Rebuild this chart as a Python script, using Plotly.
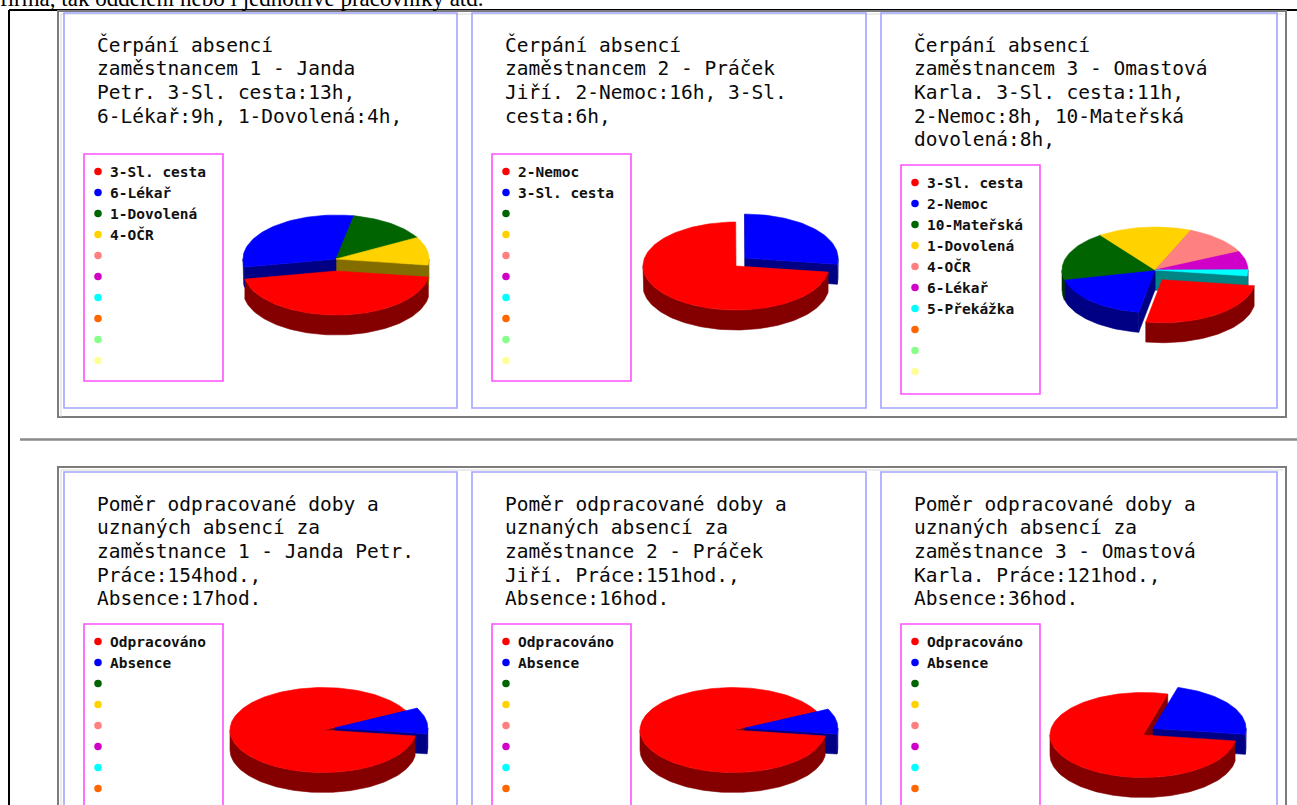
import math
import plotly.graph_objects as go

W, H = 1297, 805

# ---------------- data ----------------
top1_labels = ["3-Sl. cesta", "6-Lékař", "1-Dovolená", "4-OČR"]
top1_hours = [13, 9, 4, 3]
top2_labels = ["2-Nemoc", "3-Sl. cesta"]
top2_hours = [16, 6]
top3_labels = ["3-Sl. cesta", "2-Nemoc", "10-Mateřská", "1-Dovolená", "4-OČR", "6-Lékař", "5-Překážka"]
top3_hours = [11, 8, 8, 7, 5, 3, 1]
work_labels = ["Odpracováno", "Absence"]
emp1_hours = [154, 17]
emp2_hours = [151, 16]
emp3_hours = [121, 36]

top1_title = ["Čerpání absencí", "zaměstnancem 1 - Janda", "Petr. 3-Sl. cesta:13h,", "6-Lékař:9h, 1-Dovolená:4h,"]
top2_title = ["Čerpání absencí", "zaměstnancem 2 - Práček", "Jiří. 2-Nemoc:16h, 3-Sl.", "cesta:6h,"]
top3_title = ["Čerpání absencí", "zaměstnancem 3 - Omastová", "Karla. 3-Sl. cesta:11h,", "2-Nemoc:8h, 10-Mateřská", "dovolená:8h,"]
bot1_title = ["Poměr odpracované doby a", "uznaných absencí za", "zaměstnance 1 - Janda Petr.", "Práce:154hod.,", "Absence:17hod."]
bot2_title = ["Poměr odpracované doby a", "uznaných absencí za", "zaměstnance 2 - Práček", "Jiří. Práce:151hod.,", "Absence:16hod."]
bot3_title = ["Poměr odpracované doby a", "uznaných absencí za", "zaměstnance 3 - Omastová", "Karla. Práce:121hod.,", "Absence:36hod."]

page_text = "firma, tak oddělení nebo i jednotlivé pracovníky atd."

palette = ["#ff0000", "#0000ff", "#006400", "#ffd200", "#ff8080",
           "#d000c8", "#00ffff", "#ff6600", "#88ff88", "#ffff99"]


def darker(hexcol, f=0.52):
    r, g, b = int(hexcol[1:3], 16), int(hexcol[3:5], 16), int(hexcol[5:7], 16)
    return "#%02x%02x%02x" % (int(r * f), int(g * f), int(b * f))


fig = go.Figure()


def poly(xs, ys, col):
    fig.add_trace(go.Scatter(x=xs, y=ys, mode="lines", fill="toself", fillcolor=col,
                             line=dict(color=col, width=0.6), hoverinfo="skip",
                             showlegend=False))


def add_pie(values, cx, cy, rx, ry, depth, explode_idx, start_deg=8.0, E=12.0):
    total = float(sum(values))
    spans = []
    a = math.radians(start_deg)
    for v in values:
        b = a + 2 * math.pi * v / total
        spans.append((a, b))
        a = b
    centers = []
    for i, (a, b) in enumerate(spans):
        if i == explode_idx:
            m = (a + b) / 2
            centers.append((cx + E * math.cos(m), cy + E * math.sin(m)))
        else:
            centers.append((cx, cy))
    # radial faces, painted back to front
    faces = []
    for i, (a, b) in enumerate(spans):
        ccx, ccy = centers[i]
        for phi, ny in ((a, -math.cos(a)), (b, math.cos(b))):
            if ny > 1e-6:
                px = ccx + rx * math.cos(phi)
                py = ccy + ry * math.sin(phi)
                xs = [ccx, px, px, ccx, ccx]
                ys = [ccy, py, py + depth, ccy + depth, ccy]
                faces.append(((ccy + py) / 2, xs, ys, darker(palette[i])))
    faces.sort(key=lambda t: t[0])
    for _, xs, ys, col in faces:
        poly(xs, ys, col)
    # outer rims (front half only)
    for i, (a, b) in enumerate(spans):
        ccx, ccy = centers[i]
        for k in range(-1, 3):
            lo, hi = 2 * math.pi * k, 2 * math.pi * k + math.pi
            s, e = max(a, lo), min(b, hi)
            if e > s:
                n = max(4, int((e - s) / 0.03))
                ts = [s + (e - s) * j / n for j in range(n + 1)]
                xs = [ccx + rx * math.cos(t) for t in ts]
                ys = [ccy + ry * math.sin(t) for t in ts]
                xs2 = xs[::-1]
                ys2 = [y + depth for y in ys[::-1]]
                poly(xs + xs2 + [xs[0]], ys + ys2 + [ys[0]], darker(palette[i]))
    # top faces
    for i, (a, b) in enumerate(spans):
        ccx, ccy = centers[i]
        n = max(4, int((b - a) / 0.03))
        ts = [a + (b - a) * j / n for j in range(n + 1)]
        xs = [ccx] + [ccx + rx * math.cos(t) for t in ts] + [ccx]
        ys = [ccy] + [ccy + ry * math.sin(t) for t in ts] + [ccy]
        poly(xs, ys, palette[i])


shapes = []
annotations = []


def rect(x0, y0, x1, y1, col, w):
    shapes.append(dict(type="rect", xref="x", yref="y", x0=x0, y0=y0, x1=x1, y1=y1,
                       line=dict(color=col, width=w), fillcolor="rgba(0,0,0,0)", layer="below"))


def line(x0, y0, x1, y1, col, w):
    shapes.append(dict(type="line", xref="x", yref="y", x0=x0, y0=y0, x1=x1, y1=y1,
                       line=dict(color=col, width=w), layer="below"))


# page structure
line(9, 10, W + 5, 10, "#000000", 2)
line(9, 10, 9, H + 5, "#000000", 2)
# sunken frames
for (fy0, fy1) in ((11, 417), (467, 900)):
    rect(58, fy0, 1286, fy1, "#7c7c7c", 2)
    line(61, fy0 + 3, 1283, fy0 + 3, "#d8d8d8", 1)
    line(61, fy0 + 3, 61, fy1, "#d8d8d8", 1)
# horizontal rule
line(20, 439.5, W + 5, 439.5, "#8a8a8a", 2.5)

panel_x = [64, 472, 881]
panel_w = [393, 394, 396]
rows = [
    dict(y0=13, y1=408, title_y=45, leg=[(154, 381), (154, 381), (165, 394)]),
    dict(y0=472, y1=900, title_y=504, leg=[(624, 900), (624, 900), (624, 900)]),
]

panels = [
    (0, 0, top1_title, top1_labels, top1_hours, 0, (336, 259, 44)),
    (0, 1, top2_title, top2_labels, top2_hours, 1, (736, 266, 44)),
    (0, 2, top3_title, top3_labels, top3_hours, 0, (1155, 270, 43)),
    (1, 0, bot1_title, work_labels, emp1_hours, 1, (323, 730, 42.5)),
    (1, 1, bot2_title, work_labels, emp2_hours, 1, (733, 730, 42.5)),
    (1, 2, bot3_title, work_labels, emp3_hours, 1, (1143, 735, 42.5)),
]

LINE_H = 23.7
for r, c, title, labels, hours, expl, (pcx, pcy, pry) in panels:
    row = rows[r]
    px0 = panel_x[c]
    rect(px0, row["y0"], px0 + panel_w[c], row["y1"], "#a4a4ff", 1.6)
    for k, t in enumerate(title):
        annotations.append(dict(x=px0 + 31, y=row["title_y"] + k * LINE_H, xref="x", yref="y",
                                text=t, showarrow=False, xanchor="left", yanchor="middle",
                                font=dict(family="DejaVu Sans Mono", size=19.5, color="#0a0a0a")))
    ly0, ly1 = row["leg"][c]
    rect(px0 + 20, ly0, px0 + 159, ly1, "#ff50ff", 1.6)
    dot_y = [ly0 + 17.5 + 21 * k for k in range(10)]
    fig.add_trace(go.Scatter(x=[px0 + 34] * 10, y=dot_y, mode="markers",
                             marker=dict(color=palette, size=7.5, line=dict(width=0)),
                             hoverinfo="skip", showlegend=False))
    for k, lab in enumerate(labels):
        annotations.append(dict(x=px0 + 44, y=dot_y[k], xref="x", yref="y",
                                text="<b>" + lab + "</b>", showarrow=False, xanchor="left",
                                yanchor="middle",
                                font=dict(family="DejaVu Sans Mono", size=14.5, color="#111111")))
    add_pie(hours, pcx, pcy, 93, pry, 20, expl)

annotations.append(dict(x=-2.0 / W, y=1 + 1.0 / H, xref="paper", yref="paper", text=page_text,
                        showarrow=False, xanchor="left", yanchor="middle",
                        font=dict(family="Liberation Serif", size=23, color="#000000")))

fig.update_layout(
    width=W, height=H, margin=dict(l=0, r=0, t=0, b=0),
    paper_bgcolor="#ffffff", plot_bgcolor="#ffffff",
    xaxis=dict(range=[0, W], visible=False, fixedrange=True),
    yaxis=dict(range=[H, 0], visible=False, fixedrange=True),
    shapes=shapes, annotations=annotations, showlegend=False,
)

fig.write_html("out.html", config={"displayModeBar": False},
               post_script="document.body.style.margin='0';document.body.style.overflow='hidden';")
